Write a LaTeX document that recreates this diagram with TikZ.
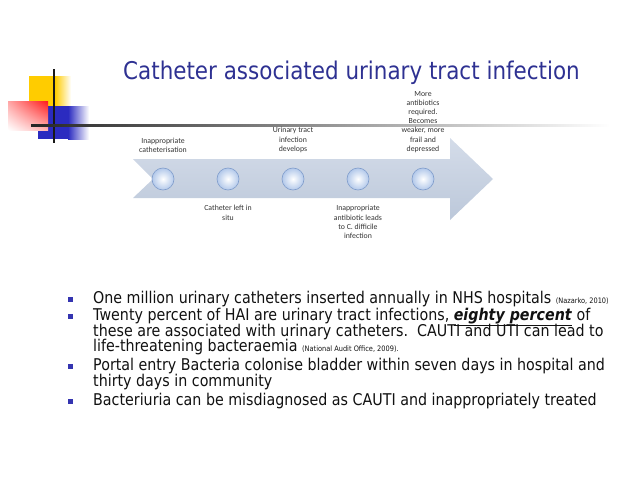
\documentclass[tikz,border=0pt]{standalone}
\usepackage{fontspec}
\setmainfont{DejaVu Sans}[FakeStretch=0.88]
\newfontfamily\labfont{Carlito}
\usetikzlibrary{positioning,shadings}
\definecolor{titleblue}{HTML}{2E3192}
\definecolor{bulletblue}{HTML}{3434B0}
\definecolor{arrowtop}{HTML}{D4DCE9}
\definecolor{arrowbot}{HTML}{BCC8DA}
\definecolor{dotrim}{HTML}{7F9CCB}
\definecolor{dotfill}{HTML}{B2C8EA}
\definecolor{ink}{HTML}{111111}
\definecolor{labink}{HTML}{333333}
\definecolor{sunny}{HTML}{FFCC00}
\definecolor{deepblue}{HTML}{2B2BC0}
\newcommand\refsize{\fontsize{7.5}{8}\selectfont}
\newcommand\bodyfont{\fontsize{16.2}{15.8}\selectfont\setlength{\lineskiplimit}{-20pt}}

\begin{document}
\begin{tikzpicture}[x=1pt, y=-1pt, ink,
  dot/.style={circle, minimum size=22pt, inner sep=0, draw=dotrim, line width=0.6pt,
              inner color=white, outer color=dotfill},
  lab/.style={font=\labfont\fontsize{7.8}{9.2}\selectfont, text=labink, align=center, inner sep=0},
  para/.style={font=\bodyfont, align=left, inner sep=0, anchor=north west},
  sq/.style={fill=bulletblue, minimum size=5pt, inner sep=0}]
\useasboundingbox (0,0) rectangle (638,479);

% corner decoration
\fill[sunny] (29,76) rectangle (55,107);
\shade[left color=sunny, right color=white] (55,76) rectangle (71,107);
\fill[deepblue] (38,106) rectangle (68,139);
\shade[left color=deepblue, right color=white] (68,106) rectangle (89,139);
\shade[upper right=red!90, upper left=red!35, lower right=red!30, lower left=white]
  (8,101) rectangle (48,130);
\draw[line width=1.8pt, black!90] (54,69) -- (54,143);
\shade[left color=black!85, middle color=black!70, right color=white] (31,124.2) rectangle (610,126);

% title
\node[font=\fontsize{24.4}{26}\selectfont, text=titleblue, anchor=base] (title) at (351.5,79)
  {Catheter associated urinary tract infection};

% timeline arrow
\shade[top color=arrowtop, bottom color=arrowbot]
  (133,159) -- (450,159) -- (450,138) -- (493,179) -- (450,220) -- (450,198)
  -- (133,198) -- (153,179) -- cycle;

% steps
\node[dot] (c1) at (163,179) {};
\node[dot] (c2) at (228,179) {};
\node[dot] (c3) at (293,179) {};
\node[dot] (c4) at (358,179) {};
\node[dot] (c5) at (423,179) {};

\node[lab, above=15pt of c1] (l1) {Inappropriate\\catheterisation};
\node[lab, below=15pt of c2] (l2) {Catheter left in\\situ};
\node[lab, above=15pt of c3] (l3) {Urinary tract\\infection\\develops};
\node[lab, below=15pt of c4] (l4) {Inappropriate\\antibiotic leads\\to C. difficile\\infection};
\node[lab, above=15pt of c5] (l5) {More\\antibiotics\\required.\\Becomes\\weaker, more\\frail and\\depressed};

% bullet points
\node[para] (p1) at (93,290.7) {One million urinary catheters inserted annually in NHS hospitals {\refsize (Nazarko, 2010)}};
\node[para] (p2) at (93,307.7) {Twenty percent of HAI are urinary tract infections, \underline{\textbf{\textit{eighty percent}}} of\\
  these are associated with urinary catheters.\ \ CAUTI and UTI can lead to\\
  life-threatening bacteraemia {\refsize (National Audit Office, 2009).}};
\node[para] (p3) at (93,357.7) {Portal entry Bacteria colonise bladder within seven days in hospital and\\
  thirty days in community};
\node[para] (p4) at (93,392.7) {Bacteriuria can be misdiagnosed as CAUTI and inappropriately treated};

\node[sq] (s1) at (70.5,299) {};
\node[sq] (s2) at (70.5,316) {};
\node[sq] (s3) at (70.5,366) {};
\node[sq] (s4) at (70.5,401) {};
\end{tikzpicture}
\end{document}
